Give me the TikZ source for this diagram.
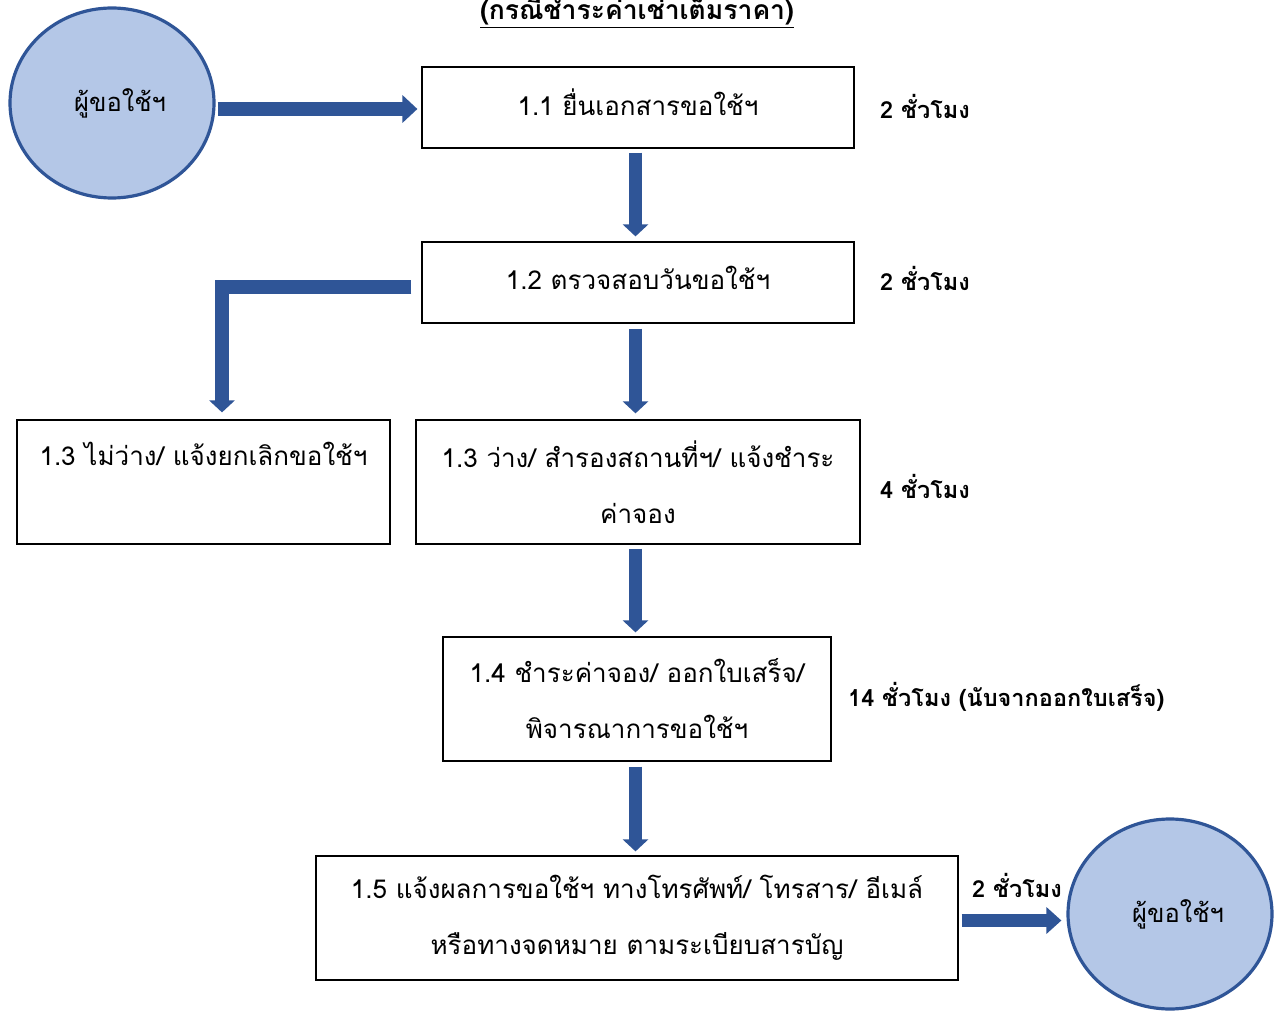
\documentclass[tikz,border=0pt]{standalone}
\usepackage{fontspec}
\newfontfamily\thai[Script=Thai]{Loma}
\usetikzlibrary{arrows.meta,shapes.geometric}
\definecolor{arrowblue}{HTML}{2F5597}
\definecolor{circfill}{HTML}{B4C7E7}
\tikzset{
  stepbox/.style={draw=black, line width=1.2pt, rectangle, inner sep=0pt, align=center,
    font=\thai\fontsize{26}{56}\selectfont},
  person/.style={ellipse, draw=arrowblue, fill=circfill, line width=3.2pt, inner sep=0pt,
    minimum width=204pt, minimum height=190pt, font=\thai\fontsize{25.5}{28}\selectfont},
  hours/.style={anchor=west, font=\thai\bfseries\fontsize{23.5}{26}\selectfont, inner sep=0pt},
  hflow/.style={draw=arrowblue, line width=14pt, line join=miter,
    -{Triangle[length=15pt,width=27pt]}},
  vflow/.style={draw=arrowblue, line width=13pt, line join=miter,
    -{Triangle[length=12pt,width=25pt]}},
}
\begin{document}
\begin{tikzpicture}[x=1pt,y=-1pt]
\useasboundingbox (0,0) rectangle (1275,1011);
\clip (0,0) rectangle (1275,1011);
% title
\node[anchor=base, font=\thai\bfseries\fontsize{26.5}{30}\selectfont, inner sep=0pt] (title) at (637,20)
  {\underline{(กรณีชำระค่าเช่าเต็มราคา)}};
% circles
\node[person] (c1) at (112,103) {\hspace*{16pt}ผู้ขอใช้ฯ};
\node[person] (c2) at (1170,914) {\hspace*{16pt}ผู้ขอใช้ฯ};
% boxes
\node[stepbox, minimum width=432pt, minimum height=81pt, text depth=10pt] (b11) at (638,107.5) {1.1 ยื่นเอกสารขอใช้ฯ};
\node[stepbox, minimum width=432pt, minimum height=81pt, text depth=10pt] (b12) at (638,282.5) {1.2 ตรวจสอบวันขอใช้ฯ};
\node[stepbox, minimum width=373pt, minimum height=124pt] (b13l) at (203.5,482) {1.3 ไม่ว่าง/ แจ้งยกเลิกขอใช้ฯ\\ \phantom{ค่าจอง}};
\node[stepbox, minimum width=444pt, minimum height=124pt] (b13r) at (638,482) {1.3 ว่าง/ สำรองสถานที่ฯ/ แจ้งชำระ\\ ค่าจอง};
\node[stepbox, minimum width=388pt, minimum height=124pt] (b14) at (637,699) {1.4 ชำระค่าจอง/ ออกใบเสร็จ/\\ พิจารณาการขอใช้ฯ};
\node[stepbox, minimum width=642pt, minimum height=124pt] (b15) at (637,918) {1.5 แจ้งผลการขอใช้ฯ ทางโทรศัพท์/ โทรสาร/ อีเมล์\\ หรือทางจดหมาย ตามระเบียบสารบัญ};
% hour labels
\node[hours] (h1) at (880,106) {2 ชั่วโมง};
\node[hours] (h2) at (880,278) {2 ชั่วโมง};
\node[hours] (h3) at (880,486) {4 ชั่วโมง};
\node[hours] (h4) at (848,697) {14 ชั่วโมง (นับจากออกใบเสร็จ)};
\node[hours] (h5) at (972,885) {2 ชั่วโมง};
% connectors
\coordinate (a1s) at ([yshift=-1.5pt]b11.west -| c1.east);
\draw[hflow, shorten <=2pt, shorten >=4pt] (a1s) -- (a1s -| b11.west);
\coordinate (x2) at ([xshift=-2.5pt]b12.north);
\draw[vflow, shorten <=4pt, shorten >=5pt] (x2 |- b11.south) -- (x2);
\coordinate (lstart) at ([xshift=-10pt,yshift=-4.5pt]b12.west);
\coordinate (lend) at ([xshift=18.5pt,yshift=7pt]b13l.north);
\draw[vflow, line width=14pt] (lstart) -| (lend);
\coordinate (x3) at ([xshift=-2.5pt]b13r.north);
\draw[vflow, shorten <=5pt, shorten >=6pt] (x3 |- b12.south) -- (x3);
\coordinate (x4) at ([xshift=-1.5pt]b14.north);
\draw[vflow, shorten <=4pt, shorten >=4pt] (x4 |- b13r.south) -- (x4);
\coordinate (x5) at ([xshift=-1.5pt]b15.north);
\draw[vflow, shorten <=5pt, shorten >=4pt] (x5 |- b14.south) -- (x5);
\coordinate (a7s) at ([yshift=-2.5pt]b15.east);
\draw[hflow, line width=13pt, -{Triangle[length=15pt,width=26pt]}, shorten <=3pt, shorten >=5pt] (a7s) -- (a7s -| c2.west);
\end{tikzpicture}
\end{document}
